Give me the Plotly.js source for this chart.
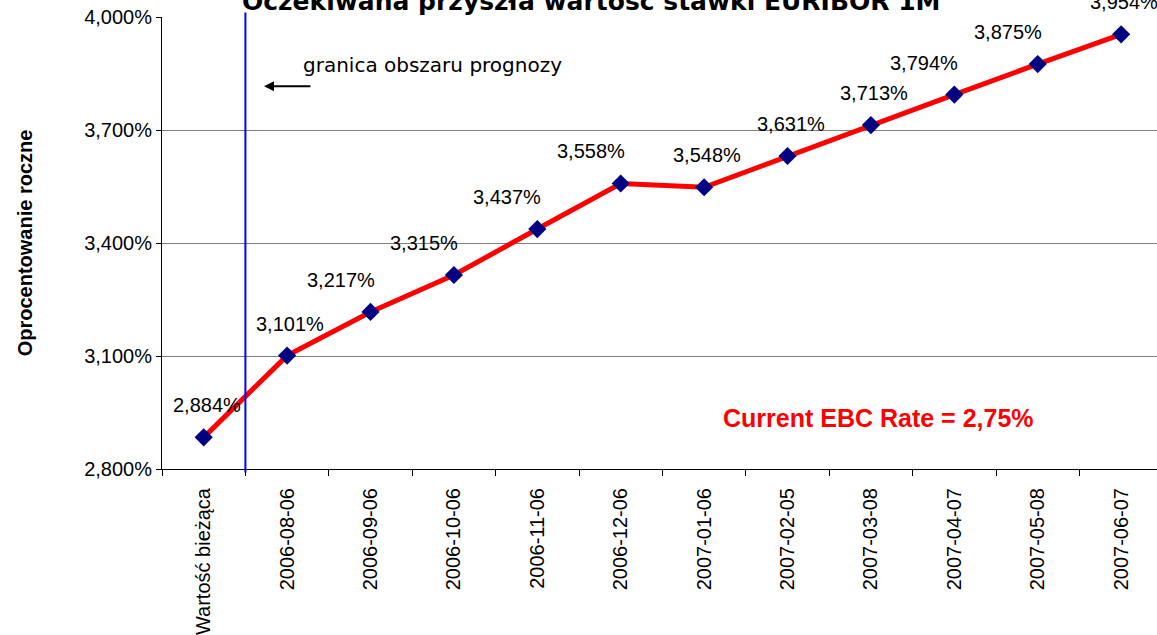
<!DOCTYPE html>
<html>
<head>
<meta charset="utf-8">
<script src="https://cdn.plot.ly/plotly-3.0.1.min.js"></script>
<style>
  html, body { margin: 0; padding: 0; background: #fff; }
  #chart { width: 1157px; height: 635px; }
</style>
</head>
<body>
<div id="chart"></div>
<script>
// terminy i oczekiwane wartosci EURIBOR 1M (w %)
var dates = ["Wartość bieżąca", "2006-08-06", "2006-09-06", "2006-10-06", "2006-11-06",
  "2006-12-06", "2007-01-06", "2007-02-05", "2007-03-08", "2007-04-07", "2007-05-08", "2007-06-07"];
var rates = [2.884, 3.101, 3.217, 3.315, 3.437, 3.558, 3.548, 3.631, 3.713, 3.794, 3.875, 3.954];
var labels = ["2,884%", "3,101%", "3,217%", "3,315%", "3,437%", "3,558%", "3,548%",
  "3,631%", "3,713%", "3,794%", "3,875%", "3,954%"];
var yTicks = [2.8, 3.1, 3.4, 3.7, 4.0];
var yTickText = ["2,800%", "3,100%", "3,400%", "3,700%", "4,000%"];

var arial = "Liberation Sans, Arial, sans-serif";
var verdana = "DejaVu Sans, Verdana, sans-serif";

var trace = {
  x: dates,
  y: rates,
  type: "scatter",
  mode: "lines+markers",
  line: { color: "#ff0000", width: 5 },
  marker: { symbol: "diamond", size: 14, color: "#000080" },
  cliponaxis: false,
  hoverinfo: "skip"
};

// etykiety danych nad punktami
var labelAnchor = ["center", "center", "right", "right", "right", "right",
  "center", "center", "center", "right", "right", "center"];
var annotations = dates.map(function(d, i) {
  return {
    x: d, y: rates[i], xref: "x", yref: "y",
    text: labels[i], showarrow: false,
    xanchor: labelAnchor[i],
    xshift: labelAnchor[i] === "right" ? 6 : 3,
    yshift: 32,
    font: { family: arial, size: 20, color: "#000" }
  };
});

annotations.push({
  xref: "paper", yref: "paper", x: 0.14, y: 0.893,
  xanchor: "left", yanchor: "middle",
  text: "granica obszaru prognozy", showarrow: false,
  font: { family: verdana, size: 20, color: "#000" }
});
annotations.push({
  xref: "paper", yref: "paper", x: 0.1025, y: 0.847,
  ax: 48, ay: 0, text: "", showarrow: true,
  arrowhead: 2, arrowsize: 1, arrowwidth: 2, arrowcolor: "#000"
});
annotations.push({
  xref: "paper", yref: "paper", x: 0.72, y: 0.113,
  xanchor: "center", yanchor: "middle",
  text: "<b>Current EBC Rate = 2,75%</b>", showarrow: false,
  font: { family: arial, size: 25, color: "#ff0000" }
});

var layout = {
  width: 1157,
  height: 635,
  margin: { l: 162, r: 0, t: 17, b: 166 },
  paper_bgcolor: "#fff",
  plot_bgcolor: "#fff",
  showlegend: false,
  title: {
    text: "<b>Oczekiwana przyszła wartość stawki EURIBOR 1M</b>",
    font: { family: verdana, size: 25, color: "#000" },
    x: 0.511, xref: "container", xanchor: "center",
    y: 0.9985, yref: "container", yanchor: "middle"
  },
  xaxis: {
    type: "category",
    range: [-0.5, 11.43],
    tickangle: -90,
    tickson: "boundaries",
    ticks: "outside",
    ticklen: 6,
    tickcolor: "#000",
    ticklabelstandoff: 10,
    showline: true,
    linecolor: "#000",
    linewidth: 1,
    showgrid: false,
    tickfont: { family: arial, size: 20, color: "#000" }
  },
  yaxis: {
    range: [2.8, 4.0],
    tickvals: yTicks,
    ticktext: yTickText,
    ticks: "outside",
    ticklen: 5,
    tickcolor: "#000",
    showline: true,
    linecolor: "#000",
    linewidth: 1,
    showgrid: true,
    gridcolor: "#808080",
    gridwidth: 1,
    zeroline: false,
    tickfont: { family: arial, size: 20, color: "#000" },
    title: {
      text: "<b>Oprocentowanie roczne</b>",
      font: { family: arial, size: 20, color: "#000" },
      standoff: 46
    }
  },
  shapes: [{
    type: "line", xref: "x", yref: "paper",
    x0: 0.5, x1: 0.5, y0: -0.008, y1: 1.01,
    line: { color: "#0000ff", width: 2 }
  }],
  annotations: annotations
};

Plotly.newPlot("chart", [trace], layout, { displayModeBar: false, staticPlot: true });
</script>
</body>
</html>
